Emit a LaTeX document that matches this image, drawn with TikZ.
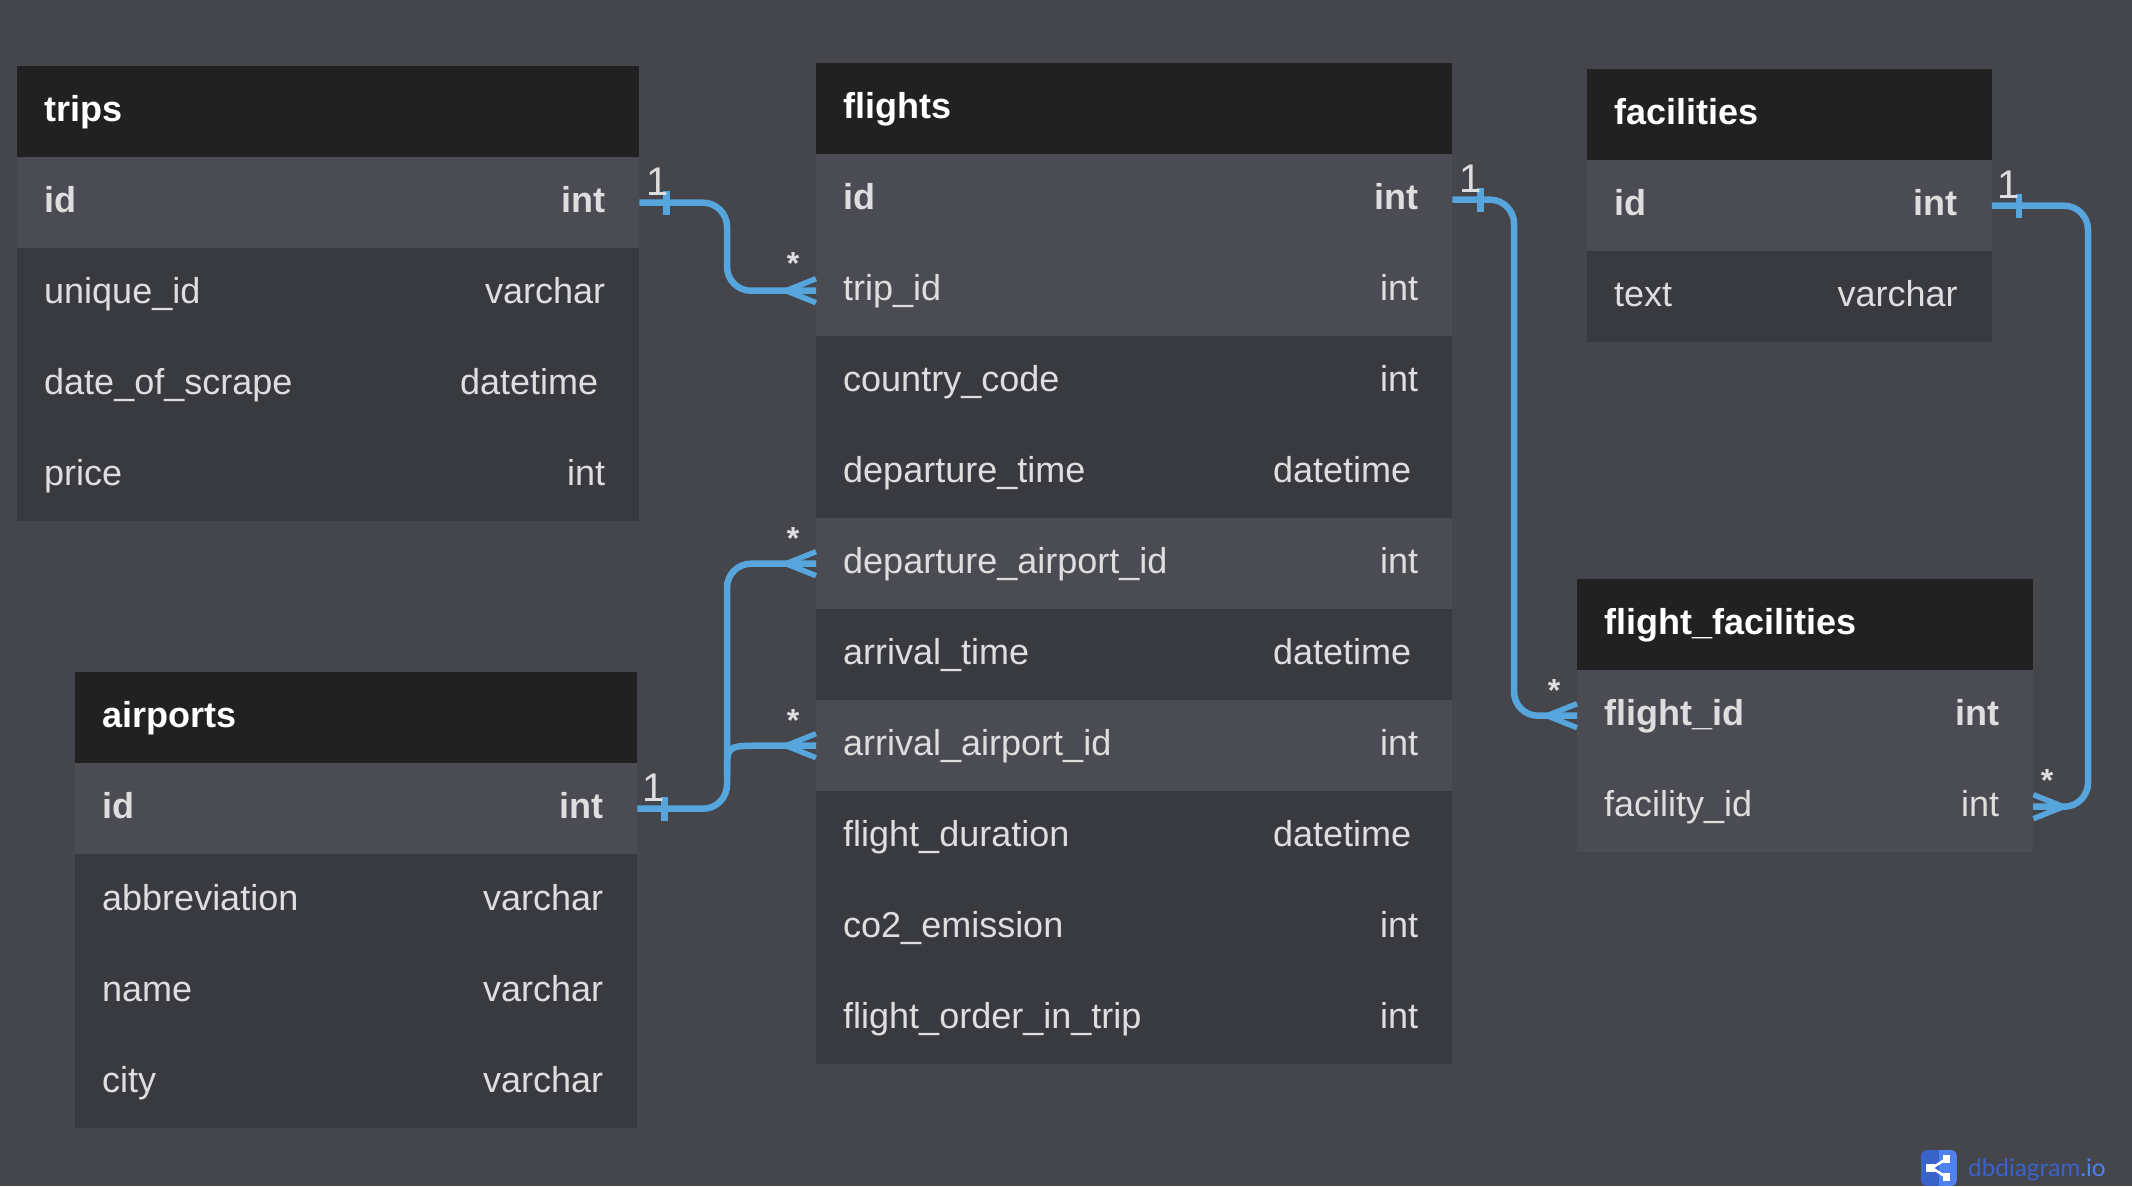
\documentclass[tikz,border=0pt]{standalone}
\usepackage{fontspec}
\setmainfont{Liberation Sans}
\newfontfamily\logofont{Lato}
\definecolor{bgc}{HTML}{45464C}
\definecolor{headc}{HTML}{212121}
\definecolor{darkc}{HTML}{393A40}
\definecolor{hic}{HTML}{4A4B53}
\definecolor{linec}{HTML}{56A5DD}
\definecolor{textc}{HTML}{DEDEDE}
\definecolor{logoa}{HTML}{3A63C9}
\definecolor{logob}{HTML}{4F82EE}
\tikzset{
  x=1pt,y=-1pt,
  headbox/.style={fill=headc,draw=none,inner sep=0pt,anchor=north west,minimum height=91pt},
  darkrow/.style={fill=darkc,draw=none,inner sep=0pt,anchor=north west,minimum height=91pt},
  hirow/.style={fill=hic,draw=none,inner sep=0pt,anchor=north west,minimum height=91pt},
  lab/.style={inner sep=0pt,text=textc,font=\fontsize{36}{36}\selectfont,text height=27pt,text depth=7pt},
  fieldlab/.style={lab,anchor=west},
  typelab/.style={lab,anchor=east},
  headlab/.style={lab,anchor=west,text=white,font=\fontsize{36}{36}\selectfont\bfseries},
  rel/.style={draw=linec,line width=6.5pt,line cap=butt},
  onelab/.style={inner sep=0pt,text=textc,font=\fontsize{40}{40}\selectfont},
  manylab/.style={inner sep=0pt,text=textc,font=\fontsize{32}{32}\selectfont\bfseries,text height=12pt,text depth=0pt,yshift=-7pt},
}
% \Head{id}{x}{y}{w}{title}
\newcommand{\Head}[5]{%
  \node[headbox,minimum width=#4pt] (#1) at (#2,#3) {};
  \node[headlab] (#1L) at ([xshift=27pt]#1.west) {#5};}
% \Row{id}{x}{y}{w}{style}{field}{type}{type offset}{font}
\newcommand{\Row}[9]{%
  \node[#5,minimum width=#4pt] (#1) at (#2,#3) {};
  \node[fieldlab] (#1F) at ([xshift=27pt]#1.west) {#9#6};
  \node[typelab] (#1T) at ([xshift=-#8pt]#1.east) {#9#7};}
% crow's foot whose tips touch a point, pointing away towards dir (+1 right, -1 left)
\newcommand{\crow}[2]{%
  \draw[rel,line width=5.5pt] (#1) ++(#2*30,0) -- ++(-#2*30,-12);
  \draw[rel,line width=5.5pt] (#1) ++(#2*30,0) -- ++(-#2*30,0);
  \draw[rel,line width=5.5pt] (#1) ++(#2*30,0) -- ++(-#2*30,12);}
\newcommand{\tick}[2]{%
  \draw[rel] (#1) ++(#2,-12) -- ++(0,24);}
\begin{document}
\begin{tikzpicture}
\useasboundingbox (0,0) rectangle (2132,1186);
\fill[bgc] (0,0) rectangle (2132,1186);

% trips
\Head{trips}{17}{66}{622}{trips}
\Row{tid}{17}{157}{622}{hirow}{id}{int}{34}{\bfseries}
\Row{tuid}{17}{248}{622}{darkrow}{unique\_id}{varchar}{34}{}
\Row{tdate}{17}{339}{622}{darkrow}{date\_of\_scrape}{datetime}{41}{}
\Row{tprice}{17}{430}{622}{darkrow}{price}{int}{34}{}

% airports
\Head{air}{75}{672}{562}{airports}
\Row{aid}{75}{763}{562}{hirow}{id}{int}{34}{\bfseries}
\Row{aabb}{75}{854}{562}{darkrow,minimum height=92pt}{abbreviation}{varchar}{34}{}
\Row{aname}{75}{946}{562}{darkrow}{name}{varchar}{34}{}
\Row{acity}{75}{1037}{562}{darkrow}{city}{varchar}{34}{}

% flights
\Head{fl}{816}{63}{636}{flights}
\Row{fid}{816}{154}{636}{hirow}{id}{int}{34}{\bfseries}
\Row{ftrip}{816}{245}{636}{hirow}{trip\_id}{int}{34}{}
\Row{fcc}{816}{336}{636}{darkrow}{country\_code}{int}{34}{}
\Row{fdep}{816}{427}{636}{darkrow}{departure\_time}{datetime}{41}{}
\Row{fdepa}{816}{518}{636}{hirow}{departure\_airport\_id}{int}{34}{}
\Row{farr}{816}{609}{636}{darkrow}{arrival\_time}{datetime}{41}{}
\Row{farra}{816}{700}{636}{hirow}{arrival\_airport\_id}{int}{34}{}
\Row{fdur}{816}{791}{636}{darkrow}{flight\_duration}{datetime}{41}{}
\Row{fco}{816}{882}{636}{darkrow}{co2\_emission}{int}{34}{}
\Row{ford}{816}{973}{636}{darkrow}{flight\_order\_in\_trip}{int}{34}{}

% facilities
\Head{fac}{1587}{69}{404.5}{facilities}
\Row{cid}{1587}{160}{404.5}{hirow}{id}{int}{34}{\bfseries}
\Row{ctext}{1587}{251}{404.5}{darkrow}{text}{varchar}{34}{}

% flight_facilities
\Head{ff}{1577}{579}{456}{flight\_facilities}
\Row{ffl}{1577}{670}{456}{hirow}{flight\_id}{int}{34}{\bfseries}
\Row{ffa}{1577}{761}{456}{hirow}{facility\_id}{int}{34}{}

% routing columns
\coordinate (busa) at (727,0);
\coordinate (busb) at (1514,0);
\coordinate (busc) at (2088,0);
\coordinate (joina) at ([yshift=35pt]busa |- aid.east);
\coordinate (joinb) at ([xshift=-56pt]farra.west);

% trips.id -- flights.trip_id
\draw[rel,rounded corners=24pt] (tid.east) -- (tid.east -| busa) -- (busa |- ftrip.west) -- (ftrip.west);
% airports.id -- flights.departure_airport_id
\draw[rel,rounded corners=24pt] (aid.east) -- (aid.east -| busa) -- (busa |- fdepa.west) -- (fdepa.west);
% airports.id -- flights.arrival_airport_id
\draw[rel] (joina) .. controls (busa |- farra.west) .. (joinb) -- (farra.west);
% flights.id -- flight_facilities.flight_id
\draw[rel,rounded corners=24pt] (fid.east) -- (fid.east -| busb) -- (busb |- ffl.west) -- (ffl.west);
% facilities.id -- flight_facilities.facility_id
\draw[rel,rounded corners=24pt] (cid.east) -- (cid.east -| busc) -- (busc |- ffa.east) -- (ffa.east);

\crow{ftrip.west}{-1}
\crow{fdepa.west}{-1}
\crow{farra.west}{-1}
\crow{ffl.west}{-1}
\crow{ffa.east}{1}
\tick{tid.east}{27}
\tick{aid.east}{27}
\tick{fid.east}{28}
\tick{cid.east}{27}

\node[onelab] (one1) at (658,182) {1};
\node[onelab] (one2) at (654,788) {1};
\node[onelab] (one3) at (1471,179) {1};
\node[onelab] (one4) at (2009,185) {1};
\node[manylab] (many1) at (793,261) {*};
\node[manylab] (many2) at (793,536) {*};
\node[manylab] (many3) at (793,718) {*};
\node[manylab] (many4) at (1554,688) {*};
\node[manylab] (many5) at (2047,778) {*};

% logo
\begin{scope}
\clip[rounded corners=6pt] (1921,1150) rectangle (1957,1186);
\fill[logoa] (1921,1150) rectangle (1939,1186);
\fill[logob] (1939,1150) rectangle (1957,1186);
\end{scope}
\draw[white,line width=2.5pt] (1932,1168) -- (1946,1159);
\draw[white,line width=2.5pt] (1932,1168) -- (1946,1177);
\fill[white] (1926,1164) rectangle (1935,1172);
\fill[white] (1943,1155) rectangle (1950,1163);
\fill[white] (1943,1173) rectangle (1950,1181);
\node[inner sep=0pt,anchor=base west,font=\logofont\fontsize{24.3}{24.3}\selectfont] (logo) at (1968,1176)
  {\textcolor{logoa}{dbdiagram}\textcolor{logob}{.io}};
\end{tikzpicture}
\end{document}
